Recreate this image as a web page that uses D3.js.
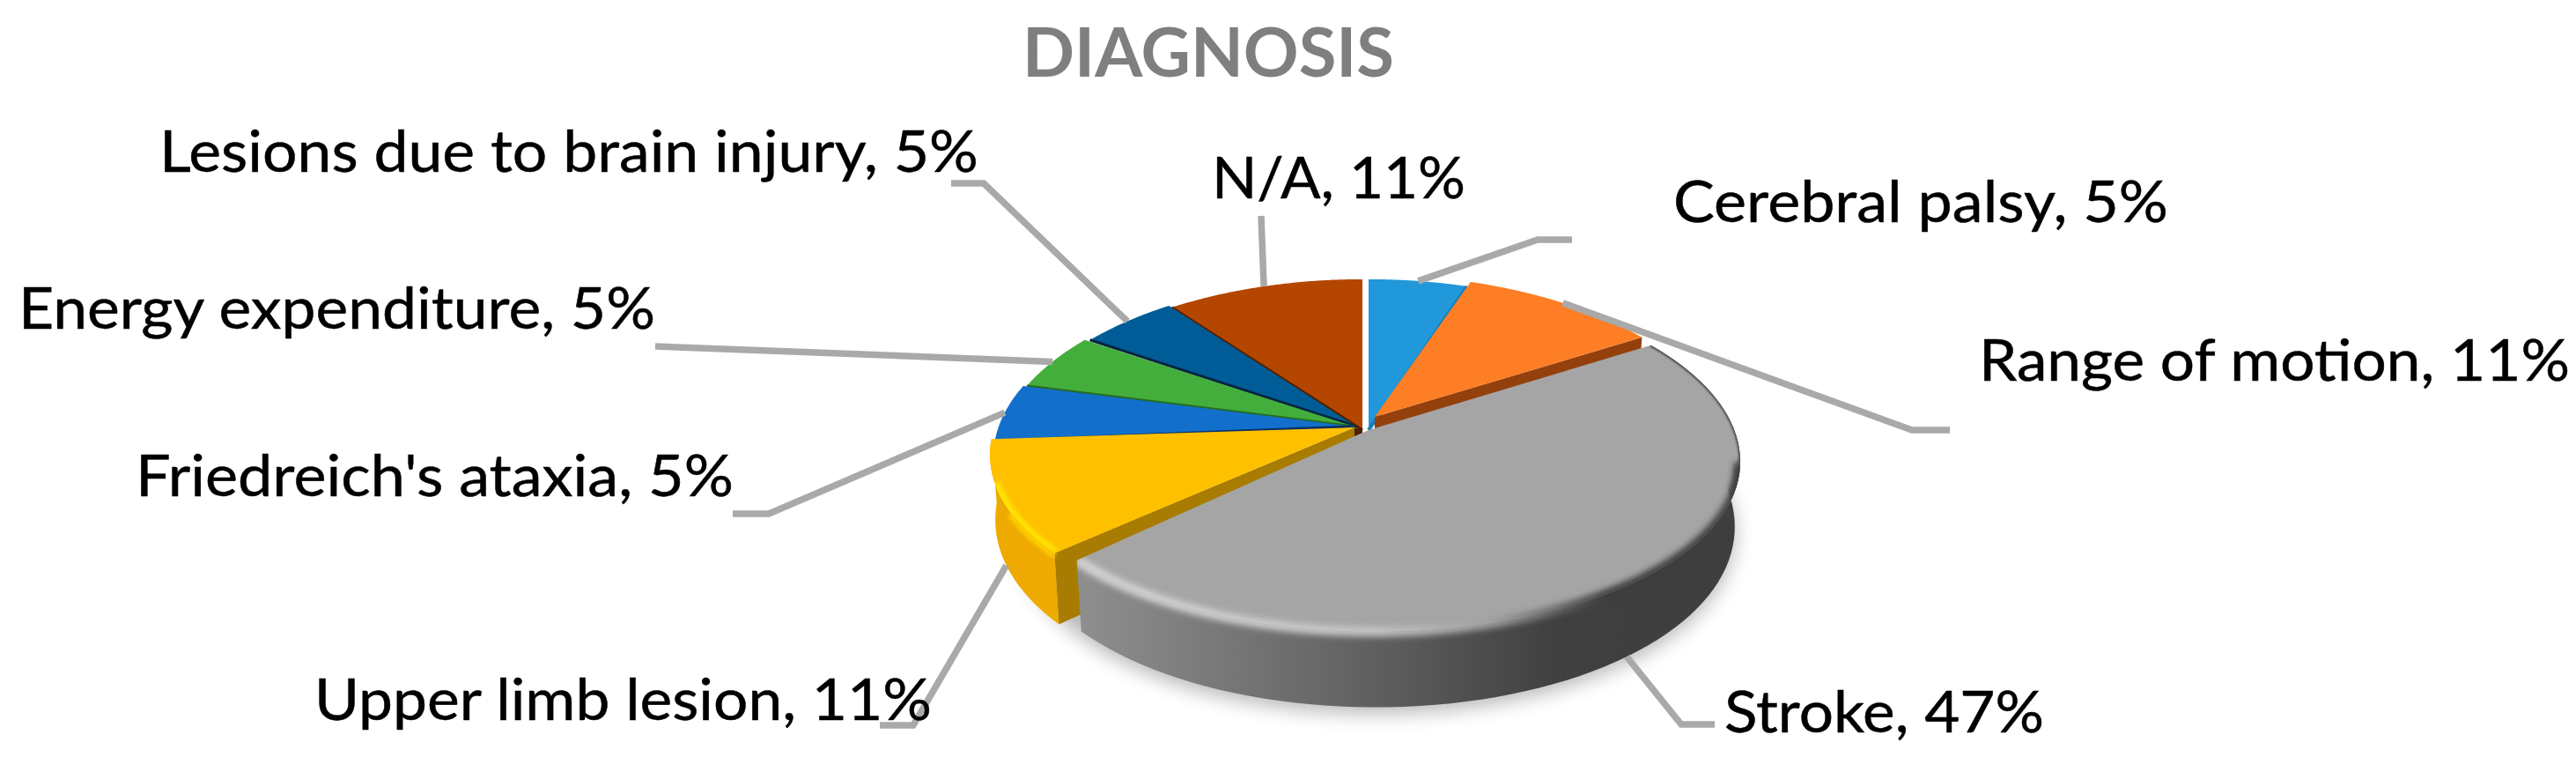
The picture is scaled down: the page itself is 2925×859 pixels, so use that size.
<!DOCTYPE html>
<html><head><meta charset="utf-8">
<style>html,body{margin:0;padding:0;background:#fff}svg{display:block}text{font-family:Lato,"Open Sans",sans-serif}</style>
<script src="https://cdn.jsdelivr.net/npm/d3@7/dist/d3.min.js"></script></head>
<body><svg id="c" width="2925" height="859"></svg>
<script>
const title = "DIAGNOSIS";
const categories = ["Cerebral palsy","Range of motion","Stroke","Upper limb lesion","Friedreich's ataxia","Energy expenditure","Lesions due to brain injury","N/A"];
const values = [5.26,10.53,47.37,10.53,5.26,5.26,5.26,10.53];
const colors = ["#2198d9","#fd7e24","#a5a5a5","#ffc000","#1270cc","#43ae3c","#005c97","#b44600"];
const cutColors = ["#1a7db8","#94400c","#707070","#a87c00","#0a2f66","#246b20","#06263f","#4f2000"];
// slice arc centres, wedge tips and radial scale on the page (slices are pulled apart slightly)
const centres = [[1554,486],[1558,481],[1562,490],[1530,482],[1534,484],[1538,484],[1544,484],[1547,486]];
const tips = [[1554,488],[1561,473],[1554,488],[1538,485],[1537,484],[1538,484],[1540,484],[1547,488]];
const radial = [1,1,1.02,1,1,1,1,1];
// label layout: left, right, baseline; leader elbow and end
const labelBox = [[1903,2460,252],[2250,2916,432],[1961,2319,831],[360,1056,817],[157,831,563],[24,742,373],[184,1109,195],[1379,1662,225]];
const leaderPts = [[[1746,272],[1785,272]],[[2171,488],[2214,488]],[[1909,822],[1947,822]],[[1037,823],[999,823]],[[873,583],[832,583]],[[744,393]],[[1117,208],[1080,208]],[[1432,245]]];
const leaderOnSide = [false,false,true,true,false,false,false,false];

const DROP=72, BOTX=0.985, BOTY=1.06, R=400, Q=193.8, KX=0.17, KY=0.146;
const svg=d3.select("#c");
const pie=d3.pie().sort(null).startAngle(0).endAngle(2*Math.PI)(values);
const rx=d3.scaleLinear().domain([0,1]).range([0,R]);
const ry=d3.scaleLinear().domain([0,1]).range([0,Q]);
function proj(i,a,bottom=false){
  const c=centres[i], u=Math.sin(a), v=-Math.cos(a);
  return [c[0]+(bottom?BOTX:1)*radial[i]*rx(u/(1-KX*v)), c[1]+(bottom?BOTY:1)*ry(v/(1-KY*v))+(bottom?DROP:0)];
}
const line=d3.line();
const arcPts=(i,a0,a1,bottom=false)=>d3.range(0,81).map(k=>proj(i,a0+(a1-a0)*k/80,bottom));
const topPath=(i)=>line([tips[i],...arcPts(i,pie[i].startAngle,pie[i].endAngle)])+"Z";
function sidePath(i){
  const d=pie[i];
  return line([...arcPts(i,d.startAngle,d.endAngle),...arcPts(i,d.endAngle,d.startAngle,true)])+"Z";
}
function cutPath(i,a){
  const p=proj(i,a), q=proj(i,a,true), t=tips[i];
  return line([t,p,q,[t[0],t[1]+DROP]])+"Z";
}
const defs=svg.append("defs");
[["b4",3.5],["b2",2],["b1",1.2],["b12",11]].forEach(([id,s])=>defs.append("filter").attr("id",id)
  .attr("x","-20%").attr("y","-20%").attr("width","140%").attr("height","140%")
  .append("feGaussianBlur").attr("stdDeviation",s));
const lg=(id,stops,x1,x2)=>{const g=defs.append("linearGradient").attr("id",id).attr("gradientUnits","userSpaceOnUse")
  .attr("x1",x1).attr("x2",x2).attr("y1",0).attr("y2",0);
  stops.forEach(s=>g.append("stop").attr("offset",s[0]).attr("stop-color",s[1]));};
lg("graySide",[[0,"#8e8e8e"],[0.4,"#646464"],[0.72,"#404040"],[1,"#3e3e3e"]],1232,1975);
lg("grayRim",[[0,"#d6d6d6"],[0.45,"#c4c4c4"],[0.62,"#a0a0a0"],[0.8,"#3c3c3c"],[1,"#404040"]],1225,1975);

const iG=2, iY=3;
// soft shadow below the disc
svg.append("path").attr("d",line([...arcPts(iG,pie[iG].startAngle-0.01,pie[iY].endAngle,true)].map(p=>[p[0],p[1]+7]))+"Z")
  .attr("fill","#000").attr("opacity",0.28).attr("filter","url(#b12)");

// painter order: back slices first, Stroke last
const order=[7,6,5,4,0,1,3,2];
const g=svg.append("g");
order.forEach(i=>{
  const d=pie[i], t=tips[i];
  if(i===1) g.append("path").attr("d",cutPath(i,d.endAngle)).attr("fill",cutColors[i]);
  if(i===iY) g.append("path").attr("d",cutPath(i,d.startAngle)).attr("fill",cutColors[i]);
  if(i===iY) g.append("path").attr("d",sidePath(i)).attr("fill","#eeaa00");
  if(i===iG) g.append("path").attr("d",sidePath(i)).attr("fill","url(#graySide)");
  g.append("path").attr("d",topPath(i)).attr("fill",colors[i]);
  if(i===7) g.append("path").attr("d",line([t,[t[0],t[1]+8],[t[0]-9,t[1]+8],[t[0]-9,t[1]-3]])+"Z").attr("fill",cutColors[7]);
  if(i>=4) g.append("path").attr("d",line([t,proj(i,d.startAngle)])).attr("stroke",cutColors[i]).attr("stroke-width",3.2).attr("fill","none");
  if(i===0) g.append("path").attr("d",line([t,proj(i,d.endAngle)])).attr("stroke",cutColors[0]).attr("stroke-width",4).attr("fill","none");
  if(i===iY){
    defs.append("clipPath").attr("id","cy").append("path").attr("d",topPath(i));
    g.append("g").attr("clip-path","url(#cy)").append("path").attr("d",line(arcPts(i,d.startAngle,d.endAngle-0.25))).attr("fill","none")
      .attr("stroke","#ffe600").attr("stroke-width",12).attr("filter","url(#b2)");
    g.append("path").attr("d",line(arcPts(i,d.startAngle,d.startAngle+0.25).map(p=>[p[0],p[1]+3]))).attr("fill","none")
      .attr("stroke","#ffd000").attr("stroke-width",6).attr("filter","url(#b2)");
  }
  if(i===iG){
    const wide=arcPts(i,1.75,d.endAngle), thin=arcPts(i,d.startAngle,1.75);
    defs.append("clipPath").attr("id","cg").append("path").attr("d",topPath(i));
    const f=g.append("g").attr("clip-path","url(#cg)");
    f.append("path").attr("d",line(wide)).attr("fill","none").attr("stroke","url(#grayRim)").attr("stroke-width",11).attr("filter","url(#b4)");
    f.append("path").attr("d",line(thin)).attr("fill","none").attr("stroke","#3c3c3c").attr("stroke-width",3).attr("filter","url(#b1)");
    defs.append("clipPath").attr("id","cs").append("path").attr("d",sidePath(i));
    g.append("g").attr("clip-path","url(#cs)").append("path").attr("d",line(wide)).attr("fill","none")
      .attr("stroke","url(#grayRim)").attr("stroke-width",11).attr("filter","url(#b4)");
  }
});

// leaders
const gl=svg.append("g");
pie.forEach((d,i)=>{
  const a=(d.startAngle+d.endAngle)/2;
  gl.append("path").attr("d",line([proj(i,a,leaderOnSide[i]),...leaderPts[i]]))
    .attr("fill","none").attr("stroke","#a9a9a9").attr("stroke-width",7.5).attr("stroke-linejoin","miter");
});

// labels
const lab=svg.append("g").attr("font-size",65).attr("fill","#000").attr("stroke","#000").attr("stroke-width",0.5);
pie.forEach((d,i)=>{
  const [x0,x1,y]=labelBox[i];
  lab.append("text").attr("x",x0-3).attr("y",y).attr("textLength",x1-x0+5).attr("lengthAdjust","spacingAndGlyphs")
    .text(`${categories[i]}, ${Math.round(values[i])}%`);
});
svg.append("text").attr("x",1161).attr("y",87).attr("font-size",76).attr("font-weight",700).attr("fill","#7f7f7f")
  .attr("textLength",422).attr("lengthAdjust","spacingAndGlyphs").text(title);
</script></body></html>
